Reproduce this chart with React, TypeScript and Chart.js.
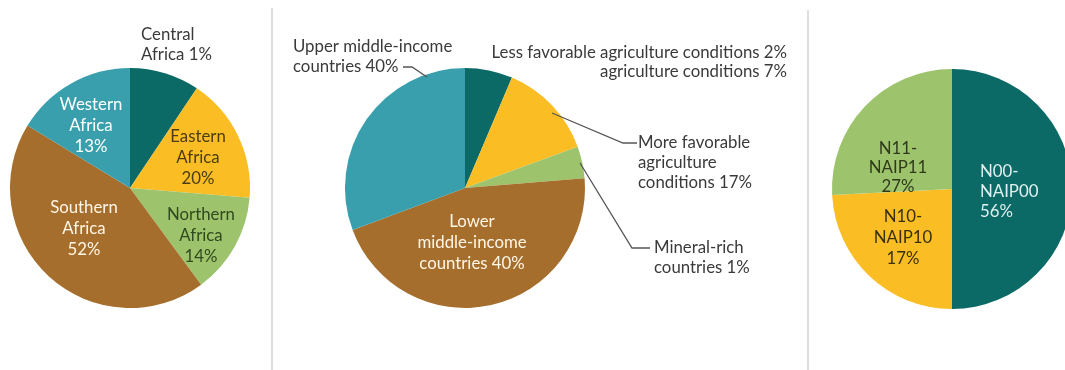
import React, { useEffect, useRef } from "react";
import { Chart, registerables } from "chart.js";

Chart.register(...registerables);

// ---------- data ----------
const regionLabels = ["Central Africa", "Eastern Africa", "Northern Africa", "Southern Africa", "Western Africa"];
const regionValues = [9.4, 16.9, 13.6, 43.8, 16.3];
const regionColors = ["#0b6966", "#fbbd24", "#9dc46c", "#a66e2c", "#3a9fac"];

const groupLabels = [
  "Less favorable agriculture conditions",
  "More favorable agriculture conditions",
  "Mineral-rich countries",
  "Lower middle-income countries",
  "Upper middle-income countries",
];
const groupValues = [6.4, 13.0, 4.3, 45.6, 30.7];
const groupColors = ["#0b6966", "#fbbd24", "#9dc46c", "#a66e2c", "#3a9fac"];

const naipLabels = ["N00-NAIP00", "N10-NAIP10", "N11-NAIP11"];
const naipValues = [50.0, 24.2, 25.8];
const naipColors = ["#0b6966", "#fbbd24", "#9dc46c"];

const FONT = "16.8px Lato, 'Open Sans', sans-serif";
const OUT = "#3a3a3a";

type TextLabel = { lines: string[]; dx: number; dy: number; align: CanvasTextAlign; color: string; lh?: number };
type Leader = { pts: [number, number][] };

const regionTexts: TextLabel[] = [
  { lines: ["Central", "Africa 1%"], dx: 11, dy: -153, align: "left", color: OUT, lh: 20 },
  { lines: ["Western", "Africa", "13%"], dx: -39, dy: -83, align: "center", color: "#ffffff" },
  { lines: ["Eastern", "Africa", "20%"], dx: 68, dy: -51, align: "center", color: "#4a3d12" },
  { lines: ["Northern", "Africa", "14%"], dx: 71, dy: 27, align: "center", color: "#2f4a1d" },
  { lines: ["Southern", "Africa", "52%"], dx: -46, dy: 20, align: "center", color: "#fff6e6" },
];

const groupTexts: TextLabel[] = [
  { lines: ["Upper middle-income", "countries 40%"], dx: -172, dy: -141, align: "left", color: OUT, lh: 20 },
  { lines: ["Less favorable agriculture conditions 2%", "agriculture conditions 7%"], dx: 322, dy: -135, align: "right", color: OUT, lh: 19 },
  { lines: ["More favorable", "agriculture", "conditions 17%"], dx: 173, dy: -45, align: "left", color: OUT, lh: 20 },
  { lines: ["Mineral-rich", "countries 1%"], dx: 189, dy: 60, align: "left", color: OUT, lh: 20 },
  { lines: ["Lower", "middle-income", "countries 40%"], dx: 7, dy: 34, align: "center", color: "#fff6e6" },
];

const groupLeaders: Leader[] = [
  { pts: [[-62, -121], [-53, -121], [-38, -111]] },
  { pts: [[172, -45], [158, -45], [87, -75]] },
  { pts: [[185, 60], [167, 60], [115, -25]] },
];

const naipTexts: TextLabel[] = [
  { lines: ["N11-", "NAIP11", "27%"], dx: -54, dy: -40, align: "center", color: "#2f3a1a", lh: 19 },
  { lines: ["N10-", "NAIP10", "17%"], dx: -49, dy: 28, align: "center", color: "#3a3010" },
  { lines: ["N00-", "NAIP00", "56%"], dx: 28, dy: -17, align: "left", color: "#dff0ef", lh: 20 },
];

type PieProps = {
  labels: string[];
  values: number[];
  colors: string[];
  left: number;
  top: number;
  width: number;
  height: number;
  pad: { left: number; top: number; right: number; bottom: number };
  texts: TextLabel[];
  leaders: Leader[];
};

function Pie(props: PieProps) {
  const ref = useRef<HTMLCanvasElement | null>(null);
  useEffect(() => {
    if (!ref.current) return;
    const texts = props.texts;
    const leaders = props.leaders;
    const plugin = {
      id: "pieText",
      afterDatasetsDraw(chart: any) {
        const arc = chart.getDatasetMeta(0).data[0];
        if (!arc) return;
        const cx = arc.x;
        const cy = arc.y;
        const ctx: CanvasRenderingContext2D = chart.ctx;
        ctx.save();
        leaders.forEach((l) => {
          ctx.beginPath();
          ctx.strokeStyle = "#555555";
          ctx.lineWidth = 1.3;
          l.pts.forEach(([dx, dy], i) => {
            if (i === 0) ctx.moveTo(cx + dx, cy + dy);
            else ctx.lineTo(cx + dx, cy + dy);
          });
          ctx.stroke();
        });
        texts.forEach((t) => {
          ctx.font = FONT;
          ctx.fillStyle = t.color;
          ctx.textAlign = t.align;
          ctx.textBaseline = "middle";
          const lh = t.lh ?? 21;
          t.lines.forEach((s, i) => ctx.fillText(s, cx + t.dx, cy + t.dy + i * lh));
        });
        ctx.restore();
      },
    };
    const chart = new Chart(ref.current, {
      type: "pie",
      data: {
        labels: props.labels,
        datasets: [
          {
            data: props.values,
            backgroundColor: props.colors,
            borderWidth: 0,
            hoverOffset: 0,
          },
        ],
      },
      options: {
        animation: false,
        responsive: false,
        devicePixelRatio: 1,
        rotation: 0,
        layout: { padding: props.pad },
        plugins: { legend: { display: false }, tooltip: { enabled: false } },
        events: [],
      },
      plugins: [plugin],
    });
    return () => chart.destroy();
  }, []);
  return (
    <canvas
      ref={ref}
      width={props.width}
      height={props.height}
      style={{ position: "absolute", left: props.left, top: props.top, width: props.width, height: props.height }}
    />
  );
}

export default function App() {
  return (
    <div
      style={{
        position: "absolute",
        left: 0,
        top: 0,
        width: 1065,
        height: 370,
        overflow: "hidden",
        background: "#ffffff",
      }}
    >
      <Pie
        labels={regionLabels}
        values={regionValues}
        colors={regionColors}
        left={0}
        top={0}
        width={271}
        height={370}
        pad={{ left: 10, top: 68, right: 21, bottom: 62 }}
        texts={regionTexts}
        leaders={[]}
      />
      <div style={{ position: "absolute", left: 271, top: 8, width: 2, height: 362, background: "#dedede" }} />
      <Pie
        labels={groupLabels}
        values={groupValues}
        colors={groupColors}
        left={273}
        top={0}
        width={534}
        height={370}
        pad={{ left: 72, top: 68, right: 222, bottom: 62 }}
        texts={groupTexts}
        leaders={groupLeaders}
      />
      <div style={{ position: "absolute", left: 807, top: 10, width: 2, height: 360, background: "#dedede" }} />
      <Pie
        labels={naipLabels}
        values={naipValues}
        colors={naipColors}
        left={809}
        top={0}
        width={270}
        height={370}
        pad={{ left: 23, top: 69, right: 7, bottom: 61 }}
        texts={naipTexts}
        leaders={[]}
      />
    </div>
  );
}
